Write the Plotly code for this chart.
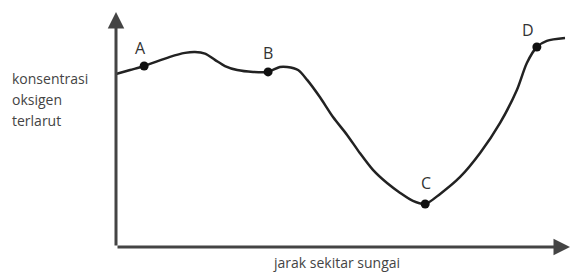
import plotly.graph_objects as go

# Curve: distance along the river (x) vs dissolved-oxygen concentration (y), arbitrary units 0-100
distance = [0, 3.1, 6.2, 11.9, 15.2, 17.4, 19.6, 21.8, 24.0, 26.7, 30.2, 33.5, 36.1, 37.7, 40.1,
            42.1, 44.9, 47.8, 50.9, 53.7, 56.6, 59.7, 62.6, 65.4, 68.1, 71.4, 75.8, 80.2, 84.6,
            88.3, 90.5, 92.7, 94.9, 98.9]
oxygen = [73.6, 75.3, 77.0, 80.9, 82.6, 83.0, 82.3, 79.6, 77.0, 75.3, 74.5, 74.5, 76.6, 76.6, 75.3,
          71.1, 63.8, 55.3, 47.7, 40.0, 32.8, 27.2, 23.0, 19.6, 18.3, 22.6, 29.8, 40.0, 52.8,
          66.8, 78.3, 85.1, 87.7, 88.9]

point_names = ["A", "B", "C", "D"]
point_x = [6.2, 33.5, 68.1, 92.7]
point_y = [77.0, 74.5, 18.3, 85.1]
label_x = [5.5, 33.5, 68.3, 90.7]
label_y = [84.7, 82.6, 27.2, 92.3]

y_title_lines = ["konsentrasi", "oksigen", "terlarut"]
x_title = "jarak sekitar sungai"

fig = go.Figure()
fig.add_trace(go.Scatter(x=distance, y=oxygen, mode="lines",
                         line=dict(color="#222222", width=2.5, shape="spline", smoothing=0.8),
                         hoverinfo="skip"))
fig.add_trace(go.Scatter(x=point_x, y=point_y, mode="markers",
                         marker=dict(color="#111111", size=9), hoverinfo="skip"))

for name, lx, ly in zip(point_names, label_x, label_y):
    fig.add_annotation(x=lx, y=ly, text=name, showarrow=False,
                       font=dict(family="Open Sans", size=16, color="#333333"))

# axes with arrowheads
axis_color = "#444444"
fig.add_annotation(x=0, y=100, ax=0, ay=0, xref="x", yref="y", axref="x", ayref="y",
                   showarrow=True, arrowhead=2, arrowsize=1.1, arrowwidth=3, arrowcolor=axis_color, text="")
fig.add_annotation(x=100, y=0, ax=0, ay=0, xref="x", yref="y", axref="x", ayref="y",
                   showarrow=True, arrowhead=2, arrowsize=1.1, arrowwidth=3, arrowcolor=axis_color, text="")

for i, line in enumerate(y_title_lines):
    fig.add_annotation(x=-23.4, y=71.5 - i * 8.94, text=line, showarrow=False, xanchor="left",
                       yanchor="middle", font=dict(family="Open Sans", size=14, color="#444444"))

fig.add_annotation(x=48.6, y=-6.8, text=x_title, showarrow=False, xanchor="center", yanchor="middle",
                   font=dict(family="Open Sans", size=14, color="#444444"))

fig.update_layout(width=572, height=274, margin=dict(l=0, r=0, t=0, b=0),
                  paper_bgcolor="white", plot_bgcolor="white", showlegend=False,
                  xaxis=dict(range=[-25.55, 100.44], visible=False, fixedrange=True),
                  yaxis=dict(range=[-11.49, 105.1], visible=False, fixedrange=True))

fig.write_html("out.html", config={"displayModeBar": False},
               post_script="document.body.style.margin='0';")
